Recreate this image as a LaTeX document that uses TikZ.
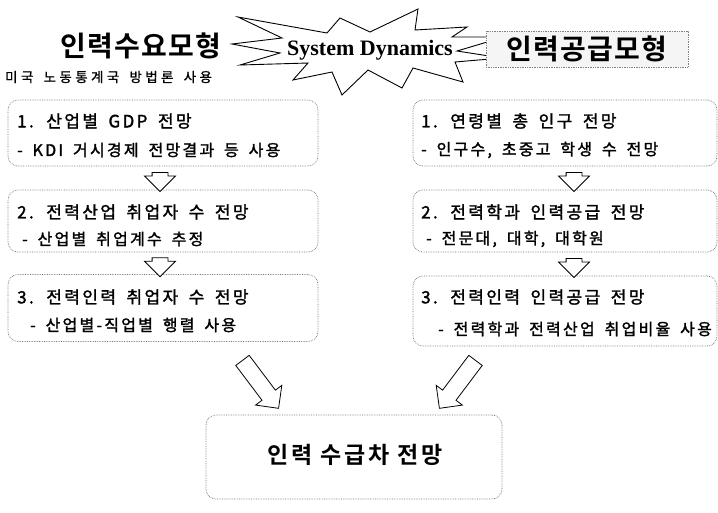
\documentclass[tikz,border=0pt]{standalone}
\usepackage{fontspec}
\setmainfont{Noto Sans CJK KR}
\newfontfamily\krfont[LetterSpace=14,WordSpace=1.7,FakeBold=1.6]{Noto Sans CJK KR}
\newfontfamily\krnote[LetterSpace=25,WordSpace=1.6,FakeBold=1]{Noto Sans CJK KR}
\newfontfamily\krbold[LetterSpace=4]{Noto Sans CJK KR Bold}
\newfontfamily\krboldsp[LetterSpace=12]{Noto Sans CJK KR Bold}
\newfontfamily\timesbold{Liberation Serif}
\usetikzlibrary{shapes.arrows,calc}
\begin{document}
\begin{tikzpicture}[x=1pt,y=-1pt,
  stepbox/.style={draw=black!55, densely dotted, line width=0.7pt, rounded corners=10pt, inner sep=0pt},
  bodytxt/.style={anchor=west, inner sep=0pt, font=\krfont\fontsize{17pt}{19pt}\selectfont},
  subtxt/.style={anchor=west, inner sep=0pt, font=\krfont\fontsize{16pt}{18pt}\selectfont},
  blockarrow/.style={single arrow, draw=black, line width=0.8pt, fill=white, inner xsep=0pt, inner ysep=7.5pt,
     single arrow head extend=7.5pt, single arrow head indent=0pt},
]
\useasboundingbox (0,0) rectangle (718,512);
% starburst
\draw[line width=0.9pt, fill=white, line join=miter]
  (238,17) -- (327,33) -- (340,18) -- (370,32) -- (418,9) -- (415,30) -- (467,27) -- (452,37)
  -- (504,37) -- (457,51) -- (502,58) -- (455,62) -- (463,82) -- (413,68) -- (402,88)
  -- (368,70) -- (342,95) -- (332,72) -- (293,80) -- (308,63) -- (240,65) -- (280,53)
  -- (232,44) -- (282,38) -- cycle;
\node[inner sep=0pt, font=\timesbold\bfseries\fontsize{22pt}{24pt}\selectfont] (sd) at (370,50) {System Dynamics};
% titles
\node[inner sep=0pt, font=\krbold\fontsize{28pt}{32pt}\selectfont] (dem) at (141,46) {인력수요모형};
\node[draw=black!50, densely dotted, line width=0.7pt, fill=black!4, minimum width=202pt, minimum height=36pt,
      inner sep=0pt, font=\krbold\fontsize{28pt}{32pt}\selectfont] (sup) at (587,49) {인력공급모형};
\node[anchor=west, inner sep=0pt, font=\krnote\fontsize{13.5pt}{15pt}\selectfont] (note) at (5,77) {미국 노동통계국 방법론 사용};
% left boxes
\node[stepbox, minimum width=310pt, minimum height=66pt] (l1) at (163,133) {};
\node[stepbox, minimum width=310pt, minimum height=62pt] (l2) at (163,221) {};
\node[stepbox, minimum width=310pt, minimum height=67pt] (l3) at (163,308) {};
\node[bodytxt] (l1a) at (17,121) {1. 산업별 GDP 전망};
\node[subtxt] (l1b) at (17,150) {- KDI 거시경제 전망결과 등 사용};
\node[bodytxt] (l2a) at (17,212) {2. 전력산업 취업자 수 전망};
\node[subtxt] (l2b) at (22,239) {- 산업별 취업계수 추정};
\node[bodytxt] (l3a) at (17,297) {3. 전력인력 취업자 수 전망};
\node[subtxt] (l3b) at (30,325) {- 산업별-직업별 행렬 사용};
% right boxes
\node[stepbox, minimum width=304pt, minimum height=66pt] (r1) at (565,133) {};
\node[stepbox, minimum width=304pt, minimum height=62pt] (r2) at (565,221) {};
\node[stepbox, minimum width=304pt, minimum height=70pt] (r3) at (565,311) {};
\node[bodytxt] (r1a) at (421,121) {1. 연령별 총 인구 전망};
\node[subtxt] (r1b) at (421,150) {- 인구수, 초중고 학생 수 전망};
\node[bodytxt] (r2a) at (421,212) {2. 전력학과 인력공급 전망};
\node[subtxt] (r2b) at (426,239) {- 전문대, 대학, 대학원};
\node[bodytxt] (r3a) at (421,297) {3. 전력인력 인력공급 전망};
\node[subtxt] (r3b) at (438,329) {- 전력학과 전력산업 취업비율 사용};
% bottom box
\node[stepbox, minimum width=296pt, minimum height=84pt] (gap) at (354,457) {};
\node[inner sep=0pt, font=\krboldsp\fontsize{23pt}{26pt}\selectfont] (gapt) at (355,455) {인력 수급차 전망};
% block arrows
\node[blockarrow, minimum height=19pt, rotate=-90] (a1) at ($(l1.south)!0.5!(l2.north)+(-3,0)$) {};
\node[blockarrow, minimum height=19pt, rotate=-90] (a2) at ($(l2.south)!0.5!(l3.north)+(-3,0)$) {};
\node[blockarrow, minimum height=19pt, rotate=-90] (a3) at ($(r1.south)!0.5!(r2.north)+(9,0)$) {};
\node[blockarrow, minimum height=19pt, rotate=-90] (a4) at ($(r2.south)!0.5!(r3.north)+(9,0)$) {};
\node[blockarrow, minimum height=60pt, inner ysep=8pt, single arrow head extend=8pt, rotate=-53] (a5) at (258,381) {};
\node[blockarrow, minimum height=60pt, inner ysep=8pt, single arrow head extend=8pt, rotate=-127] (a6) at (460,381) {};
\end{tikzpicture}
\end{document}
